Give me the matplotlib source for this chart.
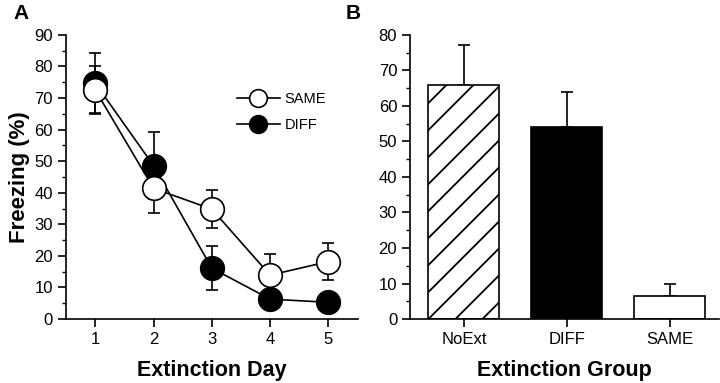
import numpy as np
import matplotlib.pyplot as plt
from matplotlib.ticker import MultipleLocator

plt.rcParams['font.family'] = ['Liberation Sans', 'DejaVu Sans']

# Panel A data
days = [1, 2, 3, 4, 5]
same_mean = [72.6, 41.4, 34.8, 13.9, 18.2]
same_err = [7.4, 7.9, 6.1, 6.7, 5.8]
diff_mean = [74.7, 48.6, 16.1, 6.3, 5.3]
diff_err = [9.7, 10.6, 7.0, 1.0, 1.0]

# Panel B data
groups = ['NoExt', 'DIFF', 'SAME']
group_mean = [66.0, 54.2, 6.6]
group_err = [11.1, 9.6, 3.2]

fig = plt.figure(figsize=(7.2, 3.83), dpi=100)
axA = fig.add_axes([0.0917, 0.167, 0.405, 0.742])
axB = fig.add_axes([0.570, 0.167, 0.4286, 0.742])

def style_axis(ax):
    ax.spines['top'].set_visible(False)
    ax.spines['right'].set_visible(False)
    for s in ['left', 'bottom']:
        ax.spines[s].set_linewidth(1.2)
    ax.tick_params(which='major', direction='out', length=6, width=1.2, labelsize=12)
    ax.tick_params(which='minor', direction='out', length=3, width=1.0)
    ax.yaxis.set_minor_locator(MultipleLocator(5))

# ---- Panel A
style_axis(axA)
axA.errorbar(days, diff_mean, yerr=diff_err, color='black', lw=1.2, capsize=4,
             elinewidth=1.2, capthick=1.2, marker='o', markersize=17,
             markerfacecolor='black', markeredgecolor='black', markeredgewidth=1.2,
             label='DIFF', zorder=2)
axA.errorbar(days, same_mean, yerr=same_err, color='black', lw=1.2, capsize=4,
             elinewidth=1.2, capthick=1.2, marker='o', markersize=17,
             markerfacecolor='white', markeredgecolor='black', markeredgewidth=1.2,
             label='SAME', zorder=3)
axA.set_xlim(0.5, 5.5)
axA.set_ylim(0, 90)
axA.set_xticks(days)
axA.yaxis.set_major_locator(MultipleLocator(10))
axA.set_xlabel('Extinction Day', fontsize=15.5, fontweight='bold', labelpad=9)
axA.set_ylabel('Freezing (%)', fontsize=16, fontweight='bold', labelpad=3)

h, l = axA.get_legend_handles_labels()
h = [hh[0] for hh in h]
leg = axA.legend(h[::-1], l[::-1], loc='upper left', bbox_to_anchor=(0.54, 0.845),
                 frameon=False, fontsize=10.5, handlelength=3.0, handletextpad=0.3,
                 labelspacing=0.85, markerscale=0.75)

axA.text(-0.18, 1.11, 'A', transform=axA.transAxes, fontsize=15, fontweight='bold',
         va='top', ha='left')

# ---- Panel B
style_axis(axB)
x = np.arange(len(groups))
faces = ['white', 'black', 'white']
bars = axB.bar(x, group_mean, width=0.69, color=faces, edgecolor='black', linewidth=1.2,
               zorder=2)
axB.errorbar(x, group_mean, yerr=[[0] * len(x), group_err], fmt='none', ecolor='black',
             elinewidth=1.2, capsize=4, capthick=1.2, zorder=1)

# wide diagonal hatching on the NoExt bar
b = bars[0]
x0, w = b.get_x(), b.get_width()
ax_w_px = axB.get_position().width * fig.get_figwidth() * fig.dpi
ax_h_px = axB.get_position().height * fig.get_figheight() * fig.dpi
px_per_x = ax_w_px / (2.48 + 0.52)
px_per_y = ax_h_px / 80.0
slope = px_per_x / px_per_y  # 45 degrees on screen
spacing = 27.0 / px_per_y
for k in range(-10, 20):
    y0 = k * spacing
    xs = np.array([x0 - 0.1, x0 + w + 0.1])
    ys = y0 + (xs - x0) * slope
    ln, = axB.plot(xs, ys, color='black', lw=1.3, zorder=2.5)
    ln.set_clip_path(b)

axB.set_xlim(-0.52, 2.48)
axB.set_ylim(0, 80)
axB.set_xticks(x)
axB.set_xticklabels(groups)
axB.yaxis.set_major_locator(MultipleLocator(10))
axB.set_xlabel('Extinction Group', fontsize=15.5, fontweight='bold', labelpad=9)

axB.text(-0.21, 1.11, 'B', transform=axB.transAxes, fontsize=15, fontweight='bold',
         va='top', ha='left')

fig.savefig('out.png', dpi=100)
